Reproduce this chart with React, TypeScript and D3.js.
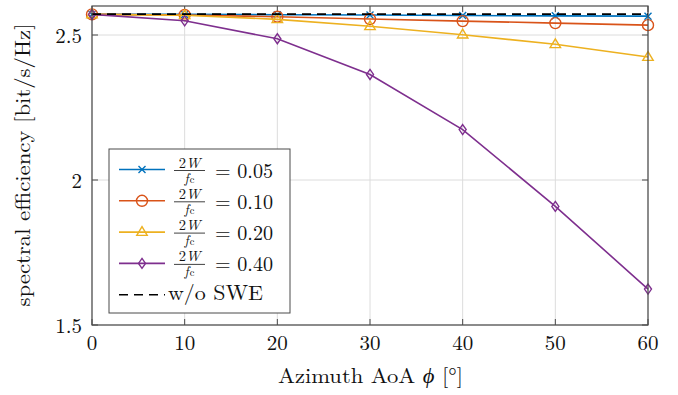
import React from "react";
import * as d3 from "d3";

const angles = [0, 10, 20, 30, 40, 50, 60];
const seriesLabels = ["0.05", "0.10", "0.20", "0.40"];
const blueVals = [2.571, 2.571, 2.570, 2.569, 2.567, 2.566, 2.565];
const redVals = [2.571, 2.569, 2.563, 2.555, 2.548, 2.541, 2.534];
const yellowVals = [2.571, 2.568, 2.554, 2.530, 2.501, 2.468, 2.424];
const purpleVals = [2.571, 2.549, 2.487, 2.364, 2.174, 1.909, 1.624];
const noSweVals = [2.572, 2.572, 2.572, 2.572, 2.572, 2.572, 2.572];
const xTicks = [0, 10, 20, 30, 40, 50, 60];
const yTicks = [1.5, 2, 2.5];

const colors = ["#0072BD", "#D95319", "#EDB120", "#7E2F8E"];
const markers = ["x", "o", "^", "d"];
const FONT = "'Latin Modern Roman', 'CMU Serif', 'Liberation Serif', 'DejaVu Serif', serif";

const W = 678, H = 395;
const left = 92, right = 648, top = 6, bottom = 325;

function Marker({ type, x, y, color }: { type: string; x: number; y: number; color: string }) {
  const sw = 1.4;
  if (type === "x") {
    const s = 3.5;
    return (
      <path d={`M${x - s},${y - s}L${x + s},${y + s}M${x - s},${y + s}L${x + s},${y - s}`} stroke={color} strokeWidth={sw} fill="none" />
    );
  }
  if (type === "o") return <circle cx={x} cy={y} r={5.5} stroke={color} strokeWidth={sw} fill="none" />;
  if (type === "^") {
    const s = 5.5;
    return <path d={`M${x},${y - s}L${x + s * 0.95},${y + s * 0.6}L${x - s * 0.95},${y + s * 0.6}Z`} stroke={color} strokeWidth={sw} fill="none" />;
  }
  const s = 5;
  return <path d={`M${x},${y - s}L${x + s * 0.7},${y}L${x},${y + s}L${x - s * 0.7},${y}Z`} stroke={color} strokeWidth={sw} fill="none" />;
}

export default function App() {
  const x = d3.scaleLinear().domain([0, 60]).range([left, right]);
  const y = d3.scaleLinear().domain([1.5, 2.6]).range([bottom, top]);
  const line = d3.line<number>().x((_, i) => x(angles[i])).y((d) => y(d));
  const series = [blueVals, redVals, yellowVals, purpleVals];
  const gridColor = "#dcdcdc";
  const axisColor = "#4a4a4a";
  const txt = "#111";

  const legX = 109, legY = 149, legW = 181, legH = 164;
  const rowY = [169.5, 200.8, 232.1, 263.4];
  const dashRowY = 294.7;

  return (
    <div style={{ position: "fixed", left: 0, top: 0 }}>
      <svg width={W} height={H} style={{ display: "block", background: "#fff" }} fontFamily={FONT}>
        {/* grid */}
        {xTicks.map((t) => (
          <line key={"gx" + t} x1={x(t)} x2={x(t)} y1={top} y2={bottom} stroke={gridColor} strokeWidth={1} />
        ))}
        {yTicks.map((t) => (
          <line key={"gy" + t} x1={left} x2={right} y1={y(t)} y2={y(t)} stroke={gridColor} strokeWidth={1} />
        ))}
        {/* ticks inside */}
        {xTicks.map((t) => (
          <g key={"tx" + t}>
            <line x1={x(t)} x2={x(t)} y1={bottom} y2={bottom - 6} stroke={axisColor} />
            <line x1={x(t)} x2={x(t)} y1={top} y2={top + 6} stroke={axisColor} />
            <text x={x(t)} y={bottom + 25} textAnchor="middle" fontSize={21} fill={txt}>{t}</text>
          </g>
        ))}
        {yTicks.map((t) => (
          <g key={"ty" + t}>
            <line x1={left} x2={left + 6} y1={y(t)} y2={y(t)} stroke={axisColor} />
            <line x1={right} x2={right - 6} y1={y(t)} y2={y(t)} stroke={axisColor} />
            <text x={left - 10} y={y(t) + 8} textAnchor="end" fontSize={21} fill={txt}>{d3.format(".1~f")(t)}</text>
          </g>
        ))}
        {/* series */}
        {series.map((vals, si) => (
          <g key={"s" + si}>
            <path d={line(vals) || ""} stroke={colors[si]} strokeWidth={1.6} fill="none" />
            {vals.map((v, i) => (
              <Marker key={i} type={markers[si]} x={x(angles[i])} y={y(v)} color={colors[si]} />
            ))}
          </g>
        ))}
        <path d={line(noSweVals) || ""} stroke="#000" strokeWidth={1.6} strokeDasharray="9,6" fill="none" />
        {/* frame */}
        <rect x={left} y={top} width={right - left} height={bottom - top} fill="none" stroke={axisColor} strokeWidth={1.2} />
        {/* axis labels */}
        <text x={370.5} y={383} textAnchor="middle" fontSize={21} fill={txt} textLength={185} lengthAdjust="spacingAndGlyphs">
          Azimuth AoA <tspan fontStyle="italic">ϕ</tspan> [°]
        </text>
        <text transform={`translate(30,165) rotate(-90)`} textAnchor="middle" fontSize={21} fill={txt} textLength={283} lengthAdjust="spacingAndGlyphs">
          spectral efficiency [bit/s/Hz]
        </text>
        {/* legend */}
        <rect x={legX} y={legY} width={legW} height={legH} fill="#fff" stroke={axisColor} strokeWidth={1} />
        {seriesLabels.map((lab, i) => (
          <g key={"l" + i}>
            <line x1={119} x2={165} y1={rowY[i]} y2={rowY[i]} stroke={colors[i]} strokeWidth={1.6} />
            <Marker type={markers[i]} x={142} y={rowY[i]} color={colors[i]} />
            <text x={189.5} y={rowY[i] - 2} textAnchor="middle" fontSize={14.5} fill={txt}>
              2<tspan fontStyle="italic">W</tspan>
            </text>
            <line x1={174} x2={205} y1={rowY[i] + 1} y2={rowY[i] + 1} stroke={txt} strokeWidth={0.8} />
            <text x={189.5} y={rowY[i] + 13} textAnchor="middle" fontSize={13.5} fill={txt}>
              <tspan fontStyle="italic">f</tspan><tspan fontSize={10.5} dx={1}>c</tspan>
            </text>
            <text x={215} y={rowY[i] + 8} fontSize={21} fill={txt} textLength={58} lengthAdjust="spacingAndGlyphs">= {lab}</text>
          </g>
        ))}
        <line x1={119} x2={165} y1={dashRowY} y2={dashRowY} stroke="#000" strokeWidth={1.6} strokeDasharray="9,6" />
        <text x={168} y={300} fontSize={21} fill={txt} textLength={95} lengthAdjust="spacingAndGlyphs">w/o SWE</text>
      </svg>
    </div>
  );
}
